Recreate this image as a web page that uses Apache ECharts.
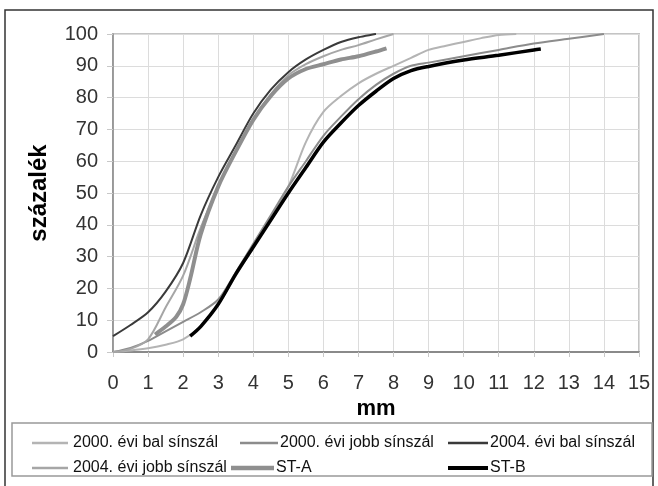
<!DOCTYPE html>
<html lang="hu">
<head>
  <meta charset="utf-8">
  <title>százalék / mm</title>
</head>
<body style="margin: 0; width: 658px; height: 486px; background: #fff;">
  <div id="container" style="width: 658px; height: 486px;"></div>

  <script type="text/javascript" src="https://cdn.jsdelivr.net/npm/echarts@6/dist/echarts.min.js"></script>
  <script type="text/javascript">
    // series names (legend order)
    var names = ['2000. évi bal sínszál', '2000. évi jobb sínszál', '2004. évi bal sínszál',
                 '2004. évi jobb sínszál', 'ST-A', 'ST-B'];

    // [mm, százalék] points
    var bal2000 = [[0,0],[0.5,0.5],[1,1.2],[1.5,2.3],[2,4],[2.5,8],[3,15],[3.5,24],[4,33],[4.5,42.5],
                   [5,52],[5.5,66],[6,75.5],[6.5,80.5],[7,84.5],[7.5,87.5],[8,90],[8.5,92.5],[9,95],
                   [9.5,96.3],[10,97.5],[10.5,98.7],[11,99.7],[11.5,100]];
    var jobb2000 = [[0,0],[0.5,1.3],[1,3.5],[1.5,6.5],[2,9.5],[2.5,12.5],[3,16.5],[3.5,25],[4,34],
                    [4.5,43],[5,52],[5.5,60],[6,68],[6.5,74],[7,79.5],[7.5,84],[8,87.5],[8.5,90],
                    [9,91],[10,93],[11,95],[12,97],[13,98.5],[14,100]];
    var bal2004 = [[0,5],[0.5,8.5],[1,12.5],[1.5,19],[2,28],[2.5,43],[3,55],[3.5,65],[4,75],
                   [4.5,82.5],[5,88],[5.5,92],[6,95],[6.5,97.5],[7,99],[7.5,100]];
    var jobb2004 = [[0,0],[0.5,1],[1,4],[1.5,14],[2,24],[2.5,39],[3,52],[3.5,63],[4,73],[4.5,81],
                    [5,87],[5.5,90.5],[6,93],[6.5,95],[7,96.5],[7.5,98.3],[8,100]];
    var stA = [[1.2,5.5],[1.5,8],[1.8,11],[2,15],[2.2,23],[2.5,37],[3,52],[3.5,63],[4,73],[4.5,80.5],
               [5,86],[5.5,89],[6,90.5],[6.5,92],[7,93],[7.5,94.5],[7.8,95.5]];
    var stB = [[2.2,5],[2.5,8],[3,15],[3.5,24.5],[4,33],[4.5,41.5],[5,50],[5.5,58],[6,66],[6.5,72],
               [7,77.5],[7.5,82],[8,86],[8.5,88.5],[9,89.8],[10,91.8],[11,93.3],[12,95],[12.2,95.3]];

    var seriesData = [bal2000, jobb2000, bal2004, jobb2004, stA, stB];
    var colors = ['#b4b4b4', '#8c8c8c', '#3a3a3a', '#a6a6a6', '#8f8f8f', '#000000'];
    var widths = [2, 2, 2, 2, 4, 3.5];

    var dom = document.getElementById('container');
    var myChart = echarts.init(dom, null, { renderer: 'canvas' });

    var font = 'Liberation Sans, Arial, sans-serif';

    // legend slots inside the box: [left, top]
    var legendPos = [[27, 430], [235, 430], [443, 430], [27, 455], [226, 455], [443, 455]];
    var legendW = [36, 38, 40, 36, 43, 40];

    var legends = names.map(function (n, i) {
      return {
        data: [{ name: n, icon: 'rect' }],
        left: legendPos[i][0],
        top: legendPos[i][1],
        itemWidth: legendW[i],
        itemHeight: widths[i] + 0.5,
        itemGap: 0,
        selectedMode: false,
        textStyle: {
          fontFamily: font, fontSize: 16, color: '#111',
          padding: i === 0 || i === 3 ? [0, 0, 0, 0] : [0, 0, 0, -3]
        }
      };
    });

    var series = names.map(function (n, i) {
      return {
        name: n,
        type: 'line',
        data: seriesData[i],
        smooth: 0.3,
        symbol: 'none',
        z: 2 + i,
        lineStyle: { color: colors[i], width: widths[i] },
        itemStyle: { color: colors[i] }
      };
    });

    var option = {
      animation: false,
      backgroundColor: '#fff',
      grid: {
        left: 113, right: 19, top: 34, bottom: 134,
        show: true, borderColor: '#c4c4c4', borderWidth: 2
      },
      legend: legends,
      xAxis: {
        type: 'value', min: 0, max: 15, interval: 1,
        name: 'mm', nameLocation: 'middle', nameGap: 43,
        nameTextStyle: { fontFamily: font, fontSize: 22, fontWeight: 'bold', color: '#000' },
        axisLine: { show: true, onZero: false, lineStyle: { color: '#8a8a8a', width: 2 } },
        axisTick: { show: true, length: 5, lineStyle: { color: '#c8c8c8' } },
        axisLabel: { fontFamily: font, fontSize: 20, color: '#333', margin: 21 },
        splitLine: { show: true, lineStyle: { color: '#dcdcdc', width: 1 } }
      },
      yAxis: {
        type: 'value', min: 0, max: 100, interval: 10,
        name: 'százalék', nameLocation: 'middle', nameGap: 62, nameRotate: 90,
        nameTextStyle: { fontFamily: font, fontSize: 24, fontWeight: 'bold', color: '#000' },
        axisLine: { show: true, lineStyle: { color: '#8a8a8a', width: 1.5 } },
        axisTick: { show: true, length: 6, lineStyle: { color: '#c8c8c8' } },
        axisLabel: { fontFamily: font, fontSize: 20, color: '#333', margin: 15 },
        splitLine: { show: true, lineStyle: { color: '#dcdcdc', width: 1 } }
      },
      graphic: [
        {
          type: 'rect', silent: true, z: -1,
          shape: { x: 5, y: 10, width: 648, height: 490 },
          style: { fill: null, stroke: '#333', lineWidth: 1.5 }
        },
        {
          type: 'rect', silent: true, z: -1,
          shape: { x: 12, y: 423, width: 640, height: 53 },
          style: { fill: null, stroke: '#999', lineWidth: 1.5 }
        }
      ],
      series: series
    };

    myChart.setOption(option);
    window.addEventListener('resize', myChart.resize);
  </script>
</body>
</html>
